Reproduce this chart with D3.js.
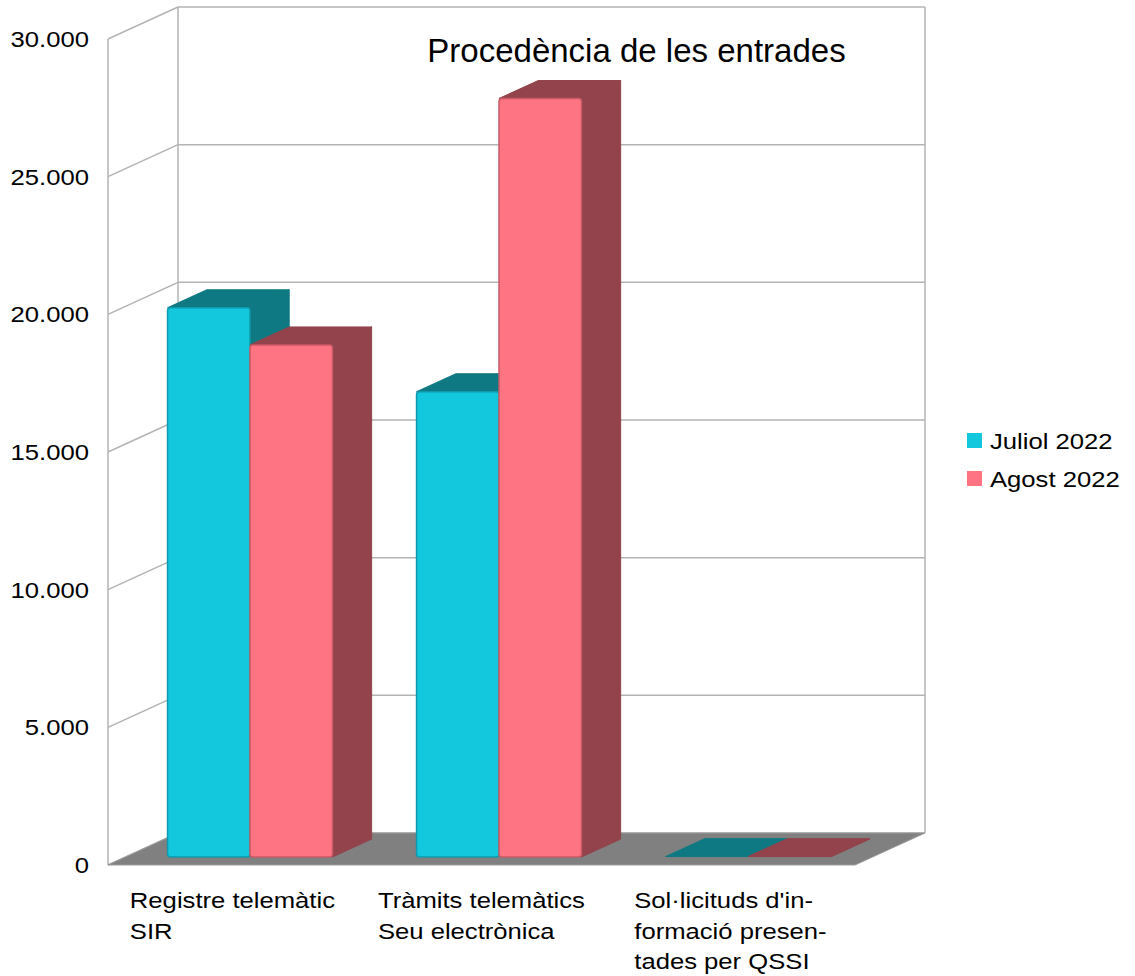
<!DOCTYPE html>
<html><head><meta charset="utf-8">
<script src="https://cdn.jsdelivr.net/npm/d3@7"></script>
<style>body{margin:0;background:#fff;} svg{display:block;font-family:"Liberation Sans",Arial,sans-serif;}</style>
</head><body>
<svg id="c" width="1135" height="976"></svg>
<script>
const categories = [["Registre telemàtic","SIR"],["Tràmits telemàtics","Seu electrònica"],["Sol·licituds d'in-","formació presen-","tades per QSSI"]];
const seriesNames = ["Juliol 2022","Agost 2022"];
const julValues = [19950, 16900, 15];
const agoValues = [18600, 27550, 15];
const yTicks = [0,5000,10000,15000,20000,25000,30000];
const title = "Procedència de les entrades";

const colors = {
  "Juliol 2022": {front:"#13c7dd", top:"#0f7983", side:"#0f7983", edge:"#0f9aab"},
  "Agost 2022": {front:"#ff7483", top:"#92434b", side:"#92434b", edge:"#c95a66"}
};

const svg = d3.select("#c");
const X0 = 108, X1 = 855, Y0 = 865;
const DX = 70, DY = -32;   // full depth vector
const H = 826;
const SX = 1.14;           // horizontal text stretch
const FS = 22.5;
const y = d3.scaleLinear().domain([0,30000]).range([0,H]);
const catKeys = categories.map((c,i)=>i);
const x = d3.scaleBand().domain(catKeys).range([X0,X1]);
const xs = d3.scaleBand().domain(seriesNames).range([0,x.bandwidth()]).paddingOuter(0.51).paddingInner(0);
const fmt = d3.formatLocale({decimal:",",thousands:".",grouping:[3],currency:["","€"]}).format(",d");

const P = (px,py,d)=>[px+d*DX, py+d*DY];
const grid = svg.append("g").attr("stroke","#b3b3b3").attr("stroke-width",1.5).attr("fill","none");
yTicks.forEach(t=>{
  const yf = Y0 - y(t);
  const b = P(X0,yf,1), e = P(X1,yf,1);
  grid.append("line").attr("x1",b[0]).attr("y1",b[1]).attr("x2",e[0]).attr("y2",e[1]);
  grid.append("line").attr("x1",X0).attr("y1",yf).attr("x2",b[0]).attr("y2",b[1]);
});
{
  const tl = P(X0,Y0-H,1), bl = P(X0,Y0,1), tr = P(X1,Y0-H,1), br = P(X1,Y0,1);
  grid.append("line").attr("x1",X0).attr("y1",Y0-H).attr("x2",X0).attr("y2",Y0);
  grid.append("line").attr("x1",tl[0]).attr("y1",tl[1]).attr("x2",bl[0]).attr("y2",bl[1]);
  grid.append("line").attr("x1",tr[0]).attr("y1",tr[1]).attr("x2",br[0]).attr("y2",br[1]);
}
{
  const a=[X0,Y0], b=[X1,Y0], c=P(X1,Y0,1), d=P(X0,Y0,1);
  svg.append("polygon").attr("points",[a,b,c,d].map(p=>p.join(",")).join(" "))
    .attr("fill","#808080").attr("stroke","#9a9a9a").attr("stroke-width",1);
}
const d0 = 0.25, d1 = 0.81;
const bars = [];
catKeys.forEach(i=>{
  seriesNames.forEach((s,si)=>{
    bars.push({cat:i, s, v:(si===0?julValues:agoValues)[i]});
  });
});
const bg = svg.append("g");
bars.forEach(b=>{
  const col = colors[b.s];
  const fx = x(b.cat) + xs(b.s) + d0*DX;
  const fyB = Y0 + d0*DY;
  const h = y(b.v);
  const w = xs.bandwidth();
  const ddx = (d1-d0)*DX, ddy = (d1-d0)*DY;
  const g = bg.append("g");
  g.append("polygon").attr("points",[[fx+w,fyB],[fx+w+ddx,fyB+ddy],[fx+w+ddx,fyB-h+ddy],[fx+w,fyB-h]].map(p=>p.join(",")).join(" "))
    .attr("fill",col.side).attr("stroke",col.side).attr("stroke-width",1).attr("stroke-linejoin","round");
  g.append("polygon").attr("points",[[fx,fyB-h],[fx+w,fyB-h],[fx+w+ddx,fyB-h+ddy],[fx+ddx,fyB-h+ddy]].map(p=>p.join(",")).join(" "))
    .attr("fill",col.top).attr("stroke",col.top).attr("stroke-width",1).attr("stroke-linejoin","round");
  if (h > 3) {
    g.append("rect").attr("x",fx).attr("y",fyB-h).attr("width",w).attr("height",h)
      .attr("rx",3).attr("fill",col.front).attr("stroke",col.edge).attr("stroke-width",1.5);
  }
});
// y labels
svg.append("g").selectAll("text").data(yTicks).join("text")
  .attr("transform",t=>`translate(89,${Y0-y(t)}) scale(${SX},1)`).attr("dy","0.35em").attr("text-anchor","end")
  .attr("font-size",FS).attr("fill","#000").text(t=>fmt(t));
// category labels
catKeys.forEach(i=>{
  const g = svg.append("g");
  const lines = categories[i];
  const ts = lines.map((l,k)=>g.append("text").attr("font-size",FS).attr("fill","#000").text(l));
  const mw = d3.max(ts, t=>t.node().getComputedTextLength()) * SX;
  const cx = x(i) + x.bandwidth()/2;
  ts.forEach((t,k)=>t.attr("transform",`translate(${cx - mw/2},${908+k*30.5}) scale(${SX},1)`));
});
// title
svg.append("text").attr("x",636.5).attr("y",62).attr("text-anchor","middle").attr("font-size",33).attr("fill","#000").text(title);
// legend
const lg = svg.append("g");
seriesNames.forEach((s,k)=>{
  lg.append("rect").attr("x",967).attr("y",433+k*38).attr("width",15).attr("height",15).attr("fill",colors[s].front);
  lg.append("text").attr("transform",`translate(990,${449+k*38}) scale(${SX},1)`).attr("font-size",FS).attr("fill","#000").text(s);
});
</script>
</body></html>
